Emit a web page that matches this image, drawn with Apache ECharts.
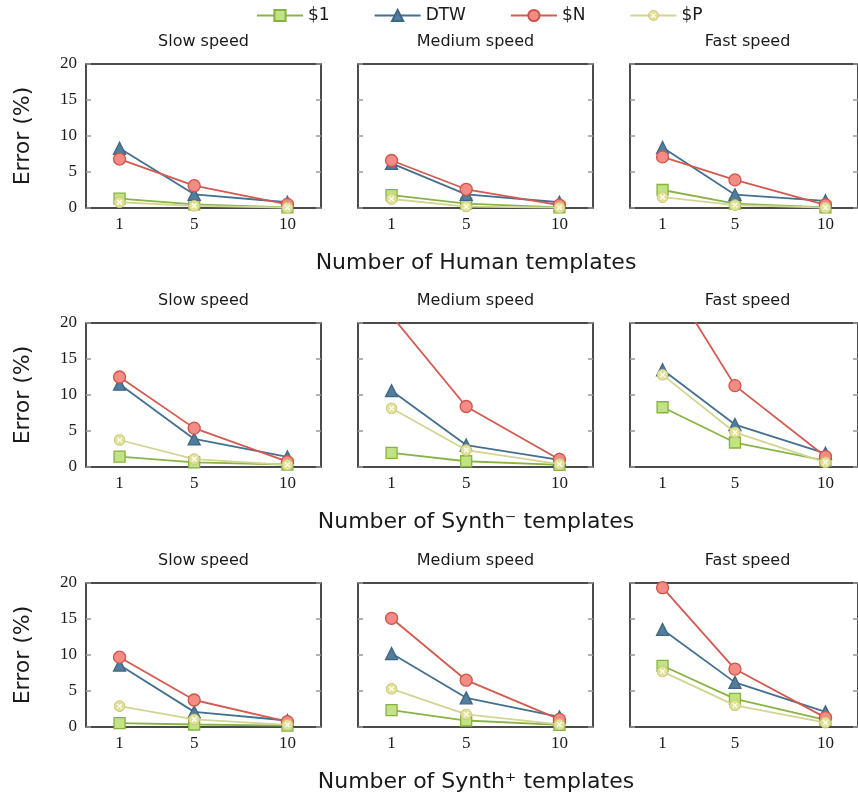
<!DOCTYPE html>
<html>
<head>
<meta charset="utf-8">
<script src="https://cdn.jsdelivr.net/npm/echarts@6/dist/echarts.min.js"></script>
<style>
  html, body { margin: 0; padding: 0; background: #fff; }
  #chart { width: 858px; height: 802px; }
</style>
</head>
<body>
<div id="chart"></div>
<script>
// Template counts on the x axis
const templateCounts = [1, 5, 10];
const methodNames = ['$1', 'DTW', '$N', '$P'];
const speedTitles = ['Slow speed', 'Medium speed', 'Fast speed'];
const rowTitles = ['Number of Human templates', 'Number of Synth\u207B templates', 'Number of Synth\u207A templates'];
const yTicks = [0, 5, 10, 15, 20];

// Error (%) per panel, rows in method order: $1, DTW, $N, $P
const humanSlow        = [[1.3, 0.5, 0.1],  [8.3, 1.9, 0.8],   [6.8, 3.1, 0.5],    [0.8, 0.3, 0.05]];
const humanMedium      = [[1.8, 0.6, 0.1],  [6.2, 1.9, 0.8],   [6.6, 2.6, 0.4],    [1.25, 0.2, 0.05]];
const humanFast        = [[2.5, 0.6, 0.1],  [8.4, 1.85, 1.0],  [7.1, 3.9, 0.45],   [1.5, 0.4, 0.05]];
const synthMinusSlow   = [[1.45, 0.65, 0.35], [11.5, 3.9, 1.4], [12.5, 5.4, 0.75], [3.75, 1.1, 0.3]];
const synthMinusMedium = [[1.95, 0.8, 0.3], [10.6, 3.05, 1.0], [21, 8.4, 1.05],    [8.15, 2.35, 0.4]];
const synthMinusFast   = [[8.3, 3.4, 0.9],  [13.5, 5.9, 1.9],  [27.5, 11.3, 1.45], [12.8, 4.8, 0.65]];
const synthPlusSlow    = [[0.55, 0.35, 0.2], [8.6, 2.1, 0.9],  [9.7, 3.75, 0.75],  [2.9, 1.05, 0.3]];
const synthPlusMedium  = [[2.35, 0.9, 0.3], [10.2, 4.05, 1.4], [15.1, 6.5, 1.05],  [5.3, 1.75, 0.35]];
const synthPlusFast    = [[8.5, 3.9, 1.0],  [13.55, 6.2, 2.1], [19.35, 8.05, 1.3], [7.7, 3.0, 0.6]];

const panels = [
  [humanSlow, humanMedium, humanFast],
  [synthMinusSlow, synthMinusMedium, synthMinusFast],
  [synthPlusSlow, synthPlusMedium, synthPlusFast]
];

// Circle-with-cross marker for $P
const otimesSvg = "<svg xmlns='http://www.w3.org/2000/svg' width='24' height='24' viewBox='0 0 24 24'>" +
  "<circle cx='12' cy='12' r='10.8' fill='#e2e296' stroke='#c6c67e' stroke-width='2'/>" +
  "<path d='M7.4 7.4L16.6 16.6M16.6 7.4L7.4 16.6' stroke='#ffffff' stroke-width='2.4'/></svg>";
const otimesSymbol = 'image://data:image/svg+xml;utf8,' + encodeURIComponent(otimesSvg);

const methodStyles = [
  { symbol: 'rect',     size: 11, line: '#88b446', fill: '#c2e285', border: '#86b23f' },
  { symbol: 'triangle', size: 12, line: '#44708f', fill: '#527e9e', border: '#3c6685' },
  { symbol: 'circle',   size: 12, line: '#d35a50', fill: '#f38c85', border: '#d05449' },
  { symbol: otimesSymbol, size: 12, line: '#d4d492', fill: '#e6e6a2', border: '#cbcb86' }
];

const colLefts = [86, 358, 630];
const rowTops = [64, 323, 583];
const plotW = 235, plotH = 144;

const grid = [], xAxis = [], yAxis = [], series = [], graphics = [];
const sansFont = '"DejaVu Sans", sans-serif';
const serifFont = '"Liberation Serif", "DejaVu Serif", serif';

panels.forEach((row, r) => {
  row.forEach((panel, c) => {
    const gi = grid.length;
    grid.push({
      left: colLefts[c], top: rowTops[r], width: plotW, height: plotH,
      show: true, borderColor: '#111111', borderWidth: 1.5, backgroundColor: 'transparent'
    });
    xAxis.push({
      gridIndex: gi, type: 'value', min: -0.8, max: 11.8,
      axisLine: { show: false, onZero: false }, axisTick: { show: false }, splitLine: { show: false },
      axisLabel: {
        customValues: templateCounts, margin: 8,
        fontFamily: serifFont, fontSize: 17, color: '#1a1a1a'
      }
    });
    const tickStyle = { show: true, inside: true, length: 5, lineStyle: { color: '#9a9a9a', width: 1.5 } };
    yAxis.push({
      gridIndex: gi, type: 'value', min: yTicks[0], max: yTicks[yTicks.length - 1], interval: 5,
      position: 'left',
      axisLine: { show: false, onZero: false }, splitLine: { show: false }, axisTick: tickStyle,
      axisLabel: { show: c === 0, margin: 9, fontFamily: serifFont, fontSize: 17, color: '#1a1a1a' }
    });
    yAxis.push({
      gridIndex: gi, type: 'value', min: yTicks[0], max: yTicks[yTicks.length - 1], interval: 5,
      position: 'right',
      axisLine: { show: false, onZero: false }, splitLine: { show: false }, axisTick: tickStyle,
      axisLabel: { show: false }
    });
    panel.forEach((values, m) => {
      const st = methodStyles[m];
      series.push({
        name: methodNames[m], type: 'line',
        xAxisIndex: gi, yAxisIndex: gi * 2,
        data: templateCounts.map((x, i) => [x, values[i]]),
        symbol: st.symbol, symbolSize: st.size,
        showAllSymbol: true,
        lineStyle: { color: st.line, width: 1.8 },
        itemStyle: { color: st.fill, borderColor: st.border, borderWidth: 1.3 },
        z: 2 + m
      });
    });
    graphics.push({
      type: 'text', x: colLefts[c] + plotW / 2, y: rowTops[r] - 22,
      style: { text: speedTitles[c], font: '16px ' + sansFont, fill: '#1a1a1a', textAlign: 'center', textVerticalAlign: 'middle' }
    });
  });
  graphics.push({
    type: 'text', x: 476, y: rowTops[r] + plotH + 55,
    style: { text: rowTitles[r], font: '22px ' + sansFont, fill: '#1a1a1a', textAlign: 'center', textVerticalAlign: 'middle' }
  });
  graphics.push({
    type: 'text', x: 23, y: rowTops[r] + plotH / 2, rotation: Math.PI / 2,
    style: { text: 'Error (%)', font: '22px ' + sansFont, fill: '#1a1a1a', textAlign: 'center', textVerticalAlign: 'middle' }
  });
});

const chart = echarts.init(document.getElementById('chart'), null, { renderer: 'canvas' });
chart.setOption({
  animation: false,
  backgroundColor: '#ffffff',
  legend: {
    data: methodNames, top: 2, left: 251,
    itemWidth: 46, itemHeight: 14, itemGap: 44,
    textStyle: { fontFamily: sansFont, fontSize: 17, color: '#1a1a1a' }
  },
  grid, xAxis, yAxis, series,
  graphic: graphics
});
</script>
</body>
</html>
